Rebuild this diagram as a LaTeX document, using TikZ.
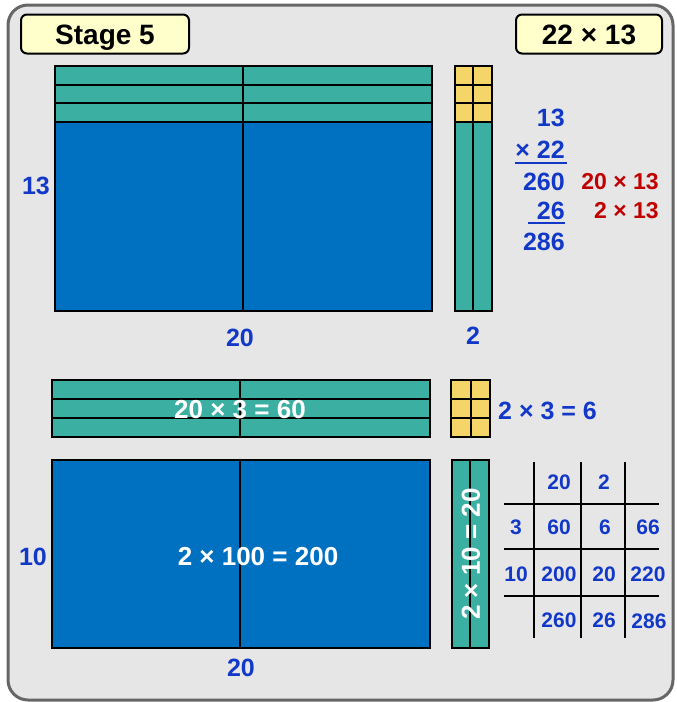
\documentclass[tikz,border=0pt]{standalone}
\usepackage{fontspec}
\setmainfont{Liberation Sans}
\usetikzlibrary{positioning}

\definecolor{framegray}{HTML}{666666}
\definecolor{paper}{HTML}{E6E6E6}
\definecolor{headyellow}{HTML}{FFFFCC}
\definecolor{tealbar}{HTML}{3BAFA2}
\definecolor{blueblock}{HTML}{0070C0}
\definecolor{unityellow}{HTML}{F5D468}
\definecolor{labelblue}{HTML}{1238C8}
\definecolor{labelred}{HTML}{C00000}

\begin{document}
\begin{tikzpicture}[
        x=1pt, y=-1pt,
        every node/.style={font=\bfseries},
        header/.style={draw, line width=2pt, rounded corners=6pt, fill=headyellow, text height=20pt, text depth=0pt, font=\fontsize{28}{32}\selectfont\bfseries},
        strip/.style={draw, line width=1.5pt, fill=tealbar},
        hundred/.style={draw, line width=1.5pt, fill=blueblock},
        unit/.style={draw, line width=1.5pt, fill=unityellow},
        gridline/.style={line width=2pt},
        numlbl/.style={text=labelblue, inner sep=0pt, font=\fontsize{25}{30}\selectfont\bfseries},
        redlbl/.style={text=labelred, inner sep=0pt, font=\fontsize{23}{28}\selectfont\bfseries},
        cell/.style={text=labelblue, inner sep=0pt, font=\fontsize{21}{25}\selectfont\bfseries},
        inside/.style={text=white, inner sep=0pt, font=\fontsize{26}{30}\selectfont\bfseries}
    ]
        \useasboundingbox (0,0) rectangle (677,702);
        % Frame
        \draw[framegray, line width=3pt, fill=paper, rounded corners=20pt] (8,5) rectangle (673,700);

        % Headers
        \node[header, minimum width=168pt, minimum height=39pt] (stage) at (105,34) {Stage 5};
        \node[header, minimum width=146pt, minimum height=39pt] (task) at (589,34) {22 × 13};

        % Top model
        \draw[strip] (55,66) rectangle (432,122);
        \draw[hundred] (55,122) rectangle (432,311);
        \foreach \y in {85,103}
            \draw[line width=1.5pt] (55,\y) -- (432,\y);
        \draw[line width=1.5pt] (243,66) -- (243,311);
        \draw[unit] (455,66) rectangle (492,122);
        \draw[strip] (455,122) rectangle (492,311);
        \foreach \y in {85,103}
            \draw[line width=1.5pt] (455,\y) -- (492,\y);
        \draw[line width=1.5pt] (473,66) -- (473,311);

        \node[numlbl] (tall) at (36,186) {13};
        \node[numlbl] (wide) at (240,338) {20};
        \node[numlbl] (narrow) at (473,336) {2};

        % Column method
        \node[numlbl, anchor=east] (top) at (565,118) {13};
        \node[numlbl, anchor=east] (times) at (565,150) {× 22};
        \node[numlbl, anchor=east] (part1) at (565,182) {260};
        \node[numlbl, anchor=east] (part2) at (565,211) {26};
        \node[numlbl, anchor=east] (total) at (565,242) {286};
        \draw[labelblue, line width=2pt] (515,163) -- (567,163);
        \draw[labelblue, line width=2pt] (528,223) -- (565,223);
        \node[redlbl, anchor=east] (why1) at (659,182) {20 × 13};
        \node[redlbl, anchor=east] (why2) at (659,211) {2 × 13};

        % Bottom model
        \draw[strip] (52,380) rectangle (430,437);
        \foreach \y in {399,418}
            \draw[line width=1.5pt] (52,\y) -- (430,\y);
        \draw[line width=1.5pt] (240,380) -- (240,437);
        \node[inside] (tens) at (240,410) {20 × 3 = 60};

        \draw[unit] (451,380) rectangle (490,437);
        \foreach \y in {399,418}
            \draw[line width=1.5pt] (451,\y) -- (490,\y);
        \draw[line width=1.5pt] (471,380) -- (471,437);
        \node[numlbl, anchor=west] (ones) at (498,411) {2 × 3 = 6};

        \draw[hundred] (52,460) rectangle (430,648);
        \draw[line width=1.5pt] (240,460) -- (240,648);
        \node[inside] (hund) at (258,557) {2 × 100 = 200};
        \node[numlbl] (ten) at (33,557) {10};
        \node[numlbl] (twenty) at (241,668) {20};

        \draw[strip] (452,460) rectangle (489,648);
        \draw[line width=1.5pt] (470,460) -- (470,648);
        \node[inside, rotate=90] (col) at (471,554) {2 × 10 = 20};

        % Grid method
        \foreach \x in {534,581,625}
            \draw[gridline] (\x,462) -- (\x,638);
        \foreach \y in {504,549,596}
            \draw[gridline] (504,\y) -- (659,\y);
        \node[cell] (h1) at (559,482) {20};
        \node[cell] (h2) at (604,482) {2};
        \node[cell] (r1) at (516,527) {3};
        \node[cell] (c11) at (559,527) {60};
        \node[cell] (c12) at (605,527) {6};
        \node[cell] (s1) at (648,527) {66};
        \node[cell] (r2) at (516,574) {10};
        \node[cell] (c21) at (559,574) {200};
        \node[cell] (c22) at (604,574) {20};
        \node[cell] (s2) at (648,574) {220};
        \node[cell] (t1) at (559,620) {260};
        \node[cell] (t2) at (604,620) {26};
        \node[cell] (t3) at (649,621) {286};
    \end{tikzpicture}
\end{document}
